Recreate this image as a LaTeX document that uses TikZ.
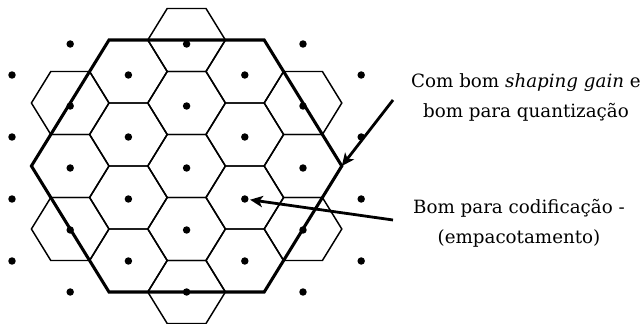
\documentclass[tikz,border=0pt]{standalone}
\usepackage{fontspec}
\setmainfont{DejaVu Serif}
\usetikzlibrary{arrows.meta}
\begin{document}
\begin{tikzpicture}[x=0.75pt,y=-0.75pt,
  cell/.style={draw=black, line width=1.1pt, line join=miter},
  region/.style={draw=black, line width=2.3pt, line join=miter},
  dot/.style={circle, fill=black, inner sep=0pt, minimum size=5.6pt},
  pointer/.style={line width=2.1pt, -{Stealth[length=9.5pt,width=8.5pt,inset=2.5pt]}},
  note/.style={font=\fontsize{13.7pt}{16pt}\selectfont, inner sep=0pt, anchor=base}]
\useasboundingbox (0,0) rectangle (642,324);

% Voronoi cells of the hexagonal lattice (19 cells)
\foreach \c/\k in {3/0,3/2,3/4,3/6,3/8,
                   2/1,2/3,2/5,2/7,4/1,4/3,4/5,4/7,
                   1/2,1/4,1/6,5/2,5/4,5/6}{
  \draw[cell, shift={({12+58.2*\c},{40+31.5*\k})}]
    (-19.4,-31.5) -- (19.4,-31.5) -- (38.8,0) -- (19.4,31.5)
    -- (-19.4,31.5) -- (-38.8,0) -- cycle;
}

% lattice points
\foreach \c in {0,...,6}{
  \foreach \k in {0,...,8}{
    \pgfmathtruncatemacro{\oddsum}{mod(\c+\k,2)}
    \ifnum\oddsum=1
      \node[dot] (d\c-\k) at ({12+58.2*\c},{44+31*\k}) {};
    \fi
  }
}

% large hexagonal region (cell scaled by 4)
\coordinate (hTL) at (109.0,40);
\coordinate (hTR) at (264.2,40);
\coordinate (hR)  at (341.8,166);
\coordinate (hBR) at (264.2,292);
\coordinate (hBL) at (109.0,292);
\coordinate (hL)  at (31.4,166);
\draw[region] (hTL) -- (hTR) -- (hR) -- (hBR) -- (hBL) -- (hL) -- cycle;

% captions
\node[note] (capA1) at (526,88) {Com bom \textit{shaping gain} e};
\node[note] (capA2) at (526,118) {bom para quantização};
\node[note] (capB1) at (519,213) {Bom para codificação -};
\node[note] (capB2) at (519,243) {(empacotamento)};

% pointers
\coordinate (srcA) at (393,100);
\coordinate (srcB) at (393,220);
\draw[pointer] (srcA) -- (hR);
\draw[pointer, shorten >=1pt] (srcB) -- (d4-5);
\end{tikzpicture}
\end{document}
